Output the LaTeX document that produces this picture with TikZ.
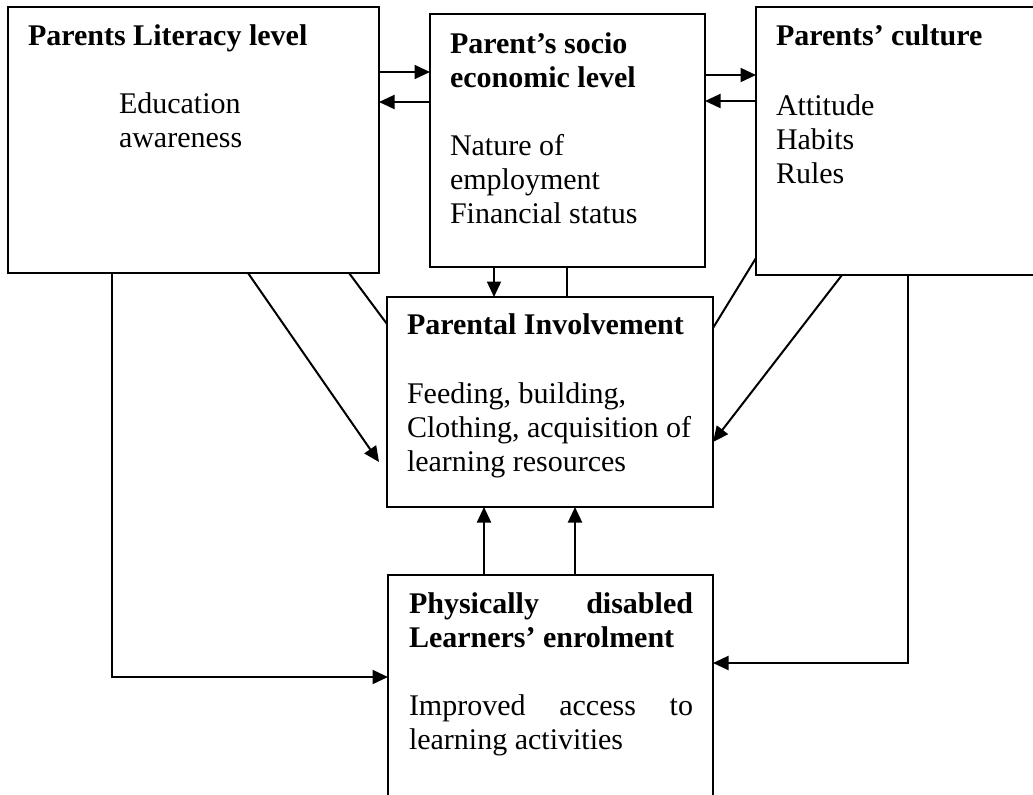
\documentclass[tikz,border=0pt]{standalone}
\usepackage{fontspec}
\setmainfont{Liberation Serif}
\usetikzlibrary{calc,arrows.meta}
\newcommand{\myblk}[2]{\parbox[t]{#1}{#2}}
\begin{document}
\begin{tikzpicture}[x=0.4pt,y=-0.4pt,
  box/.style={draw,line width=0.8pt,inner sep=0pt,outer sep=0pt,anchor=north west},
  txt/.style={anchor=base west,inner sep=0pt,outer sep=0pt,font=\fontsize{12pt}{13.6pt}\selectfont},
  ln/.style={line width=0.8pt},
  arr/.style={ln,-{Triangle[length=6.2pt,width=5.6pt]}}]
\useasboundingbox (0,0) rectangle (1033,794);
\clip (0,0) rectangle (1033,794);
% boxes
\node[box,minimum width=148.4pt,minimum height=106.4pt] (lit) at (8,7) {};
\node[box,minimum width=110pt,minimum height=101.2pt] (soc) at (430,14) {};
\node[box,minimum width=116pt,minimum height=107.2pt] (cul) at (756,7) {};
\node[box,minimum width=130.4pt,minimum height=84pt] (pi) at (387,297) {};
\node[box,minimum width=130pt,minimum height=96pt] (pdl) at (388,575) {};
% texts
\node[txt] (litT) at (28,45) {\myblk{150pt}{\bfseries Parents Literacy level}};
\node[txt] (litB) at (119,113) {\myblk{100pt}{\raggedright Education\\awareness}};
\node[txt] (socT) at (450,53) {\myblk{100pt}{\raggedright\bfseries Parent's socio\\economic level}};
\node[txt] (socB) at (450,155) {\myblk{100pt}{\raggedright Nature of\\employment\\Financial status}};
\node[txt] (culT) at (776,45) {\myblk{100pt}{\bfseries Parents' culture}};
\node[txt] (culB) at (776,115) {\myblk{100pt}{\raggedright Attitude\\Habits\\Rules}};
\node[txt] (piT) at (407,334) {\myblk{125pt}{\bfseries Parental Involvement}};
\node[txt] (piB) at (407,403) {\myblk{125pt}{\raggedright Feeding, building,\\Clothing, acquisition of\\learning resources}};
\node[txt] (pdlT) at (409,613) {\myblk{113.6pt}{\bfseries Physically\hfill disabled\\Learners' enrolment}};
\node[txt] (pdlB) at (409,715) {\myblk{113.6pt}{Improved\hfill access\hfill to\\learning activities}};
% connectors
\draw[arr] ($(lit.north east)+(0,65)$) -- ($(soc.north west)+(0,58)$);
\draw[arr] ($(soc.north west)+(0,88)$) -- ($(lit.north east)+(0,95)$);
\draw[arr] ($(soc.north east)+(0,61)$) -- ($(cul.north west)+(0,68)$);
\draw[arr] ($(cul.north west)+(0,94)$) -- ($(soc.north east)+(0,87)$);
\draw[arr] ($(soc.south west)+(64,0)$) -- ($(pi.north west)+(107,0)$);
\draw[ln] ($(soc.south west)+(137,0)$) -- ($(pi.north west)+(180,0)$);
\draw[ln] ($(lit.south west)+(341,0)$) -- ($(pi.north west)+(0,27)$);
\coordinate (litTip) at ($(pi.north west)+(-8,165)$);
\draw[arr] ($(lit.south west)+(240,0)$) -- (litTip);
\draw[ln] ($(cul.north west)+(0,251)$) -- ($(pi.north east)+(0,31)$);
\draw[arr] ($(cul.south west)+(86,0)$) -- ($(pi.north east)+(0,145)$);
\draw[arr] ($(lit.south west)+(104,0)$) |- ($(pdl.north west)+(0,102)$);
\draw[arr] ($(cul.south west)+(152,0)$) |- ($(pdl.north east)+(0,88)$);
\draw[arr] ($(pdl.north west)+(96,0)$) -- ($(pi.south west)+(97,0)$);
\draw[arr] ($(pdl.north west)+(187,0)$) -- ($(pi.south west)+(188,0)$);
\end{tikzpicture}
\end{document}
